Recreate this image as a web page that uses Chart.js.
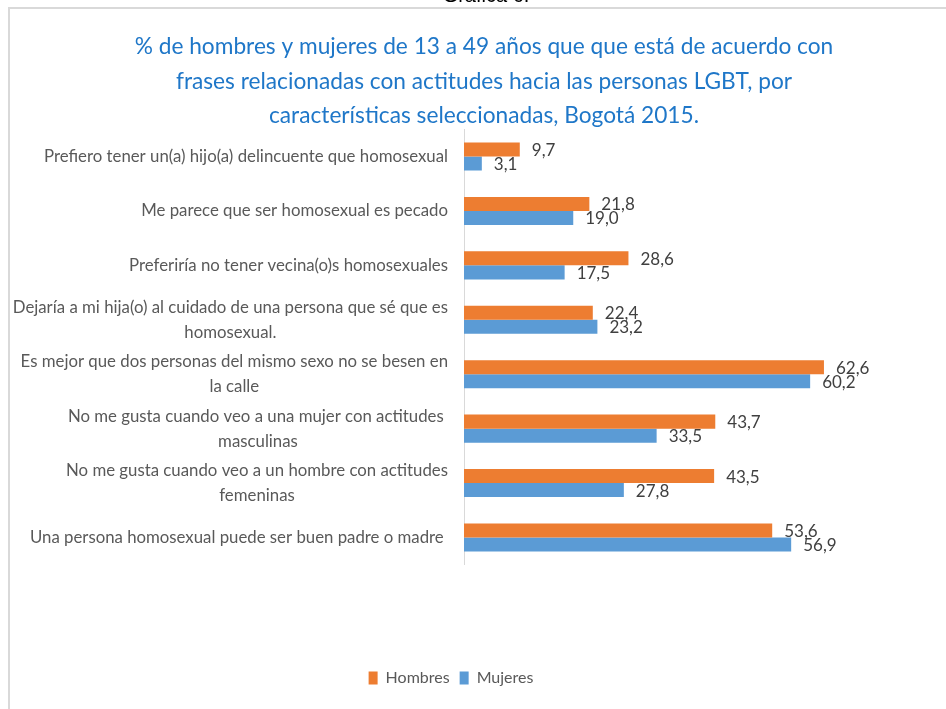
<!DOCTYPE html>
<html>
<head>
<meta charset="utf-8">
<script src="https://cdn.jsdelivr.net/npm/chart.js@4.4.1/dist/chart.umd.min.js"></script>
<style>
  html, body { margin: 0; padding: 0; background: #ffffff; }
  #wrap { width: 946px; height: 709px; position: relative; }
</style>
</head>
<body>
<div id="wrap"><canvas id="c" width="946" height="709"></canvas></div>
<script>
// ---- data ----
const categories = [
  ["Prefiero tener un(a) hijo(a) delincuente que homosexual"],
  ["Me parece que ser homosexual es pecado"],
  ["Preferiría no tener vecina(o)s homosexuales"],
  ["Dejaría a mi hija(o) al cuidado de una persona que sé que es", "homosexual."],
  ["Es mejor que dos personas del mismo sexo no se besen en", "la calle"],
  ["No me gusta cuando veo a una mujer con actitudes ", "masculinas"],
  ["No me gusta cuando veo a un hombre con actitudes", "femeninas"],
  ["Una persona homosexual puede ser buen padre o madre "]
];
const hombres = [9.7, 21.8, 28.6, 22.4, 62.6, 43.7, 43.5, 53.6];
const mujeres = [3.1, 19.0, 17.5, 23.2, 60.2, 33.5, 27.8, 56.9];
const seriesNames = ["Hombres", "Mujeres"];
const titleLines = [
  "% de hombres y mujeres de 13 a 49 años que que está de acuerdo con",
  "frases relacionadas con actitudes hacia las personas LGBT, por",
  "características seleccionadas, Bogotá 2015."
];
const captionText = "Gráfica 6.";

const FONT = "Lato, 'Open Sans', sans-serif";
const fmt = v => v.toFixed(1).replace('.', ',');

const framePlugin = {
  id: 'frame',
  beforeDraw(chart) {
    const ctx = chart.ctx;
    ctx.save();
    ctx.fillStyle = '#ffffff';
    ctx.fillRect(0, 0, chart.width, chart.height);
    ctx.strokeStyle = '#D9D9D9';
    ctx.lineWidth = 2;
    ctx.beginPath();
    ctx.moveTo(9, chart.height);
    ctx.lineTo(9, 8);
    ctx.lineTo(chart.width, 8);
    ctx.stroke();
    ctx.fillStyle = '#000000';
    ctx.font = "20px 'Liberation Sans', Arial, sans-serif";
    ctx.textAlign = 'center';
    ctx.textBaseline = 'alphabetic';
    ctx.fillText(captionText, 486, 2);
    // chart title
    ctx.fillStyle = '#1F77C8';
    ctx.font = "22.7px " + FONT;
    ctx.textBaseline = 'middle';
    const ys = [47, 82, 116];
    titleLines.forEach((t, i) => ctx.fillText(t, 484, ys[i]));
    ctx.restore();
  }
};

const catLabelPlugin = {
  id: 'catLabels',
  afterDraw(chart) {
    const ctx = chart.ctx;
    const y = chart.scales.y;
    ctx.save();
    ctx.font = "16.8px " + FONT;
    ctx.fillStyle = '#595959';
    ctx.textAlign = 'center';
    ctx.textBaseline = 'middle';
    const rightEdge = chart.chartArea.left - 16;
    categories.forEach((lines, i) => {
      const cy = y.getPixelForValue(i);
      let w = 0;
      lines.forEach(l => { w = Math.max(w, ctx.measureText(l).width); });
      const cx = rightEdge - w / 2;
      const n = lines.length;
      lines.forEach((l, k) => {
        ctx.fillText(l, cx, cy + (k - (n - 1) / 2) * 25);
      });
    });
    ctx.restore();
  }
};

const valueLabelPlugin = {
  id: 'valueLabels',
  afterDatasetsDraw(chart) {
    const ctx = chart.ctx;
    ctx.save();
    ctx.font = "17px " + FONT;
    ctx.fillStyle = '#404040';
    ctx.textAlign = 'left';
    ctx.textBaseline = 'middle';
    chart.data.datasets.forEach((ds, di) => {
      const meta = chart.getDatasetMeta(di);
      meta.data.forEach((bar, i) => {
        ctx.fillText(fmt(ds.data[i]), bar.x + 12, bar.y + 1);
      });
    });
    ctx.restore();
  }
};

new Chart(document.getElementById('c'), {
  type: 'bar',
  data: {
    labels: categories,
    datasets: [
      { label: seriesNames[0], data: hombres, backgroundColor: '#ED7D31', borderWidth: 0 },
      { label: seriesNames[1], data: mujeres, backgroundColor: '#5B9BD5', borderWidth: 0 }
    ]
  },
  options: {
    indexAxis: 'y',
    responsive: false,
    animation: false,
    devicePixelRatio: 1,
    layout: { padding: { left: 6.8, right: 50.75, top: 129.3, bottom: 13 } },
    categoryPercentage: 0.515,
    barPercentage: 1.0,
    scales: {
      x: {
        min: 0, max: 75,
        grid: { display: false },
        border: { display: false },
        ticks: { display: false },
        afterFit: s => { s.height = 95.3; }
      },
      y: {
        grid: { display: false },
        border: { display: true, color: '#D9D9D9', width: 1 },
        ticks: { display: false },
        afterFit: s => { s.width = 457.2; }
      }
    },
    plugins: {
      tooltip: { enabled: false },
      title: { display: false },
      legend: {
        position: 'bottom',
        labels: {
          color: '#595959',
          font: { family: FONT, size: 16 },
          boxWidth: 9,
          boxHeight: 13,
          padding: 10
        }
      }
    }
  },
  plugins: [framePlugin, catLabelPlugin, valueLabelPlugin]
});
</script>
</body>
</html>
